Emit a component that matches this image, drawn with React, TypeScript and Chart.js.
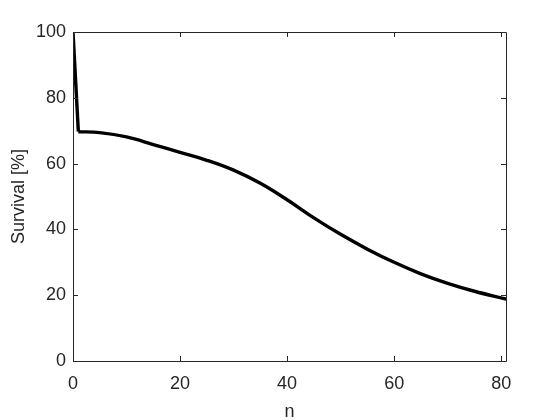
import React, { useEffect, useRef } from "react";
import { Chart, registerables } from "chart.js";

Chart.register(...registerables);

// Data
const dropN: number[] = [0, 1];
const dropSurvival: number[] = [100, 69.7];
const curveN: number[] = [1, 5, 10, 15, 20, 25, 30, 35, 40, 45, 50, 55, 60, 65, 70, 75, 81];
const curveSurvival: number[] = [69.7, 69.4, 68.1, 65.8, 63.4, 61.0, 58.0, 54.0, 49.0, 43.5, 38.5, 34.0, 30.0, 26.5, 23.6, 21.2, 18.8];
const xTicks: number[] = [0, 20, 40, 60, 80];
const yTicks: number[] = [0, 20, 40, 60, 80, 100];
const xLabel = "n";
const yLabel = "Survival [%]";

const AXIS_COLOR = "#262626";
const FONT = "'Liberation Sans', Arial, Helvetica, sans-serif";
const FONT_SIZE = 18;

const boxPlugin = {
  id: "matlabBox",
  afterDatasetsDraw(chart: any) {
    const { ctx, chartArea } = chart;
    const { left, right, top, bottom } = chartArea;
    const xs = chart.scales.x;
    const ys = chart.scales.y;
    const tl = 5;
    ctx.save();
    ctx.strokeStyle = AXIS_COLOR;
    ctx.lineWidth = 1;
    ctx.beginPath();
    ctx.rect(Math.round(left) + 0.5, Math.round(top) + 0.5, Math.round(right - left), Math.round(bottom - top));
    for (const t of xTicks) {
      const px = Math.round(xs.getPixelForValue(t)) + 0.5;
      ctx.moveTo(px, bottom);
      ctx.lineTo(px, bottom - tl);
      ctx.moveTo(px, top);
      ctx.lineTo(px, top + tl);
    }
    for (const t of yTicks) {
      const py = Math.round(ys.getPixelForValue(t)) + 0.5;
      ctx.moveTo(left, py);
      ctx.lineTo(left + tl, py);
      ctx.moveTo(right, py);
      ctx.lineTo(right - tl, py);
    }
    ctx.stroke();
    ctx.restore();
  },
};

export default function App() {
  const ref = useRef<HTMLCanvasElement | null>(null);
  useEffect(() => {
    if (!ref.current) return;
    const chart = new Chart(ref.current, {
      type: "line",
      data: {
        datasets: [
          {
            data: dropN.map((n, i) => ({ x: n, y: dropSurvival[i] })),
            borderColor: "#000000",
            borderWidth: 3.4,
            pointRadius: 0,
            tension: 0,
            fill: false,
          },
          {
            data: curveN.map((n, i) => ({ x: n, y: curveSurvival[i] })),
            borderColor: "#000000",
            borderWidth: 3.4,
            pointRadius: 0,
            tension: 0.4,
            fill: false,
          },
        ],
      },
      options: {
        animation: false,
        responsive: false,
        devicePixelRatio: 1,
        layout: { padding: { top: 32, right: 54, left: 0, bottom: 0 } },
        plugins: { legend: { display: false }, tooltip: { enabled: false } },
        scales: {
          x: {
            type: "linear",
            min: 0,
            max: 80.9,
            afterBuildTicks: (s: any) => {
              s.ticks = xTicks.map((v) => ({ value: v }));
            },
            afterFit: (s: any) => {
              s.height = 59;
            },
            ticks: {
              font: { family: FONT, size: FONT_SIZE },
              color: AXIS_COLOR,
              padding: 12,
              maxRotation: 0,
            },
            grid: { display: false, drawTicks: false },
            border: { display: false },
            title: {
              display: true,
              text: xLabel,
              font: { family: FONT, size: FONT_SIZE },
              color: AXIS_COLOR,
              padding: { top: 0, bottom: -3 },
            },
          },
          y: {
            type: "linear",
            min: 0,
            max: 100,
            afterBuildTicks: (s: any) => {
              s.ticks = yTicks.map((v) => ({ value: v }));
            },
            afterFit: (s: any) => {
              s.width = 73;
            },
            ticks: {
              font: { family: FONT, size: FONT_SIZE },
              color: AXIS_COLOR,
              padding: 7,
            },
            grid: { display: false, drawTicks: false },
            border: { display: false },
            title: {
              display: true,
              text: yLabel,
              font: { family: FONT, size: FONT_SIZE },
              color: AXIS_COLOR,
              padding: { top: 8, bottom: 0 },
            },
          },
        },
      },
      plugins: [boxPlugin],
    } as any);
    return () => chart.destroy();
  }, []);
  return (
    <div style={{ position: "fixed", left: 0, top: 0, width: 560, height: 420, background: "#ffffff" }}>
      <canvas ref={ref} width={560} height={420} style={{ width: 560, height: 420 }} />
    </div>
  );
}
